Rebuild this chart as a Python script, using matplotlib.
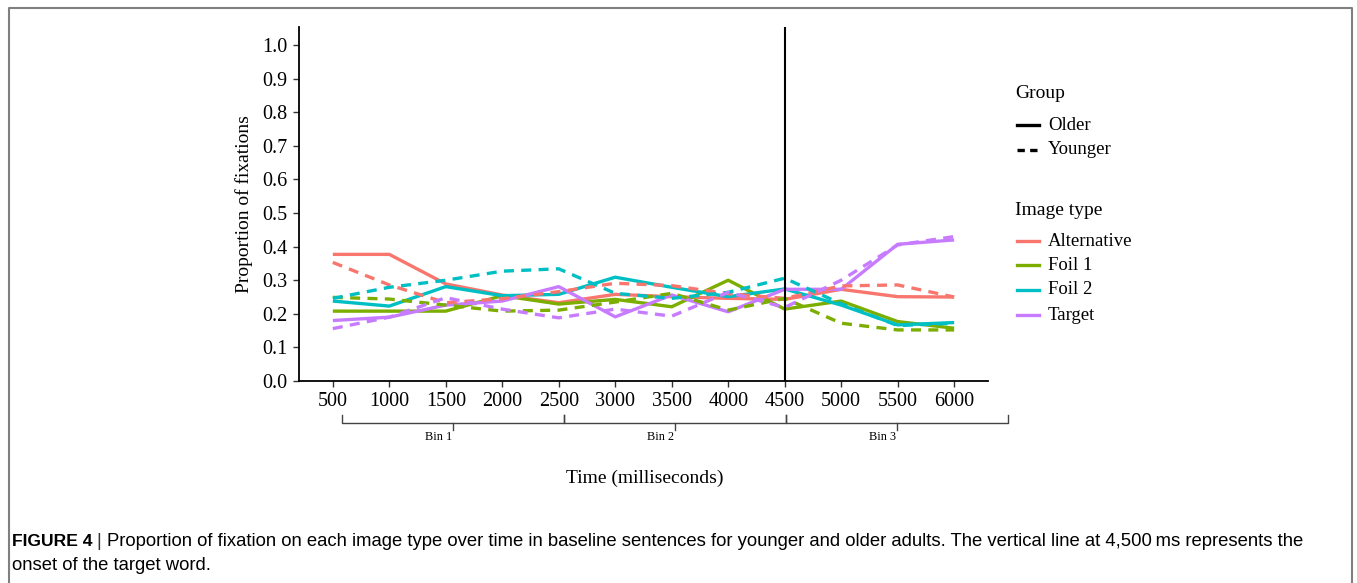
import matplotlib.pyplot as plt
from matplotlib.lines import Line2D

# Time points (ms)
times = [500, 1000, 1500, 2000, 2500, 3000, 3500, 4000, 4500, 5000, 5500, 6000]

# Older adults (solid)
alt_old = [0.377, 0.377, 0.289, 0.256, 0.233, 0.258, 0.251, 0.246, 0.243, 0.273, 0.251, 0.250]
foil1_old = [0.208, 0.208, 0.208, 0.254, 0.229, 0.243, 0.221, 0.300, 0.214, 0.238, 0.177, 0.157]
foil2_old = [0.238, 0.223, 0.281, 0.254, 0.258, 0.309, 0.279, 0.251, 0.274, 0.226, 0.167, 0.174]
target_old = [0.180, 0.190, 0.226, 0.238, 0.281, 0.191, 0.256, 0.206, 0.273, 0.273, 0.407, 0.420]

# Younger adults (dashed)
alt_young = [0.353, 0.286, 0.233, 0.245, 0.266, 0.291, 0.284, 0.260, 0.246, 0.283, 0.286, 0.250]
foil1_young = [0.249, 0.244, 0.226, 0.208, 0.211, 0.235, 0.261, 0.211, 0.246, 0.172, 0.152, 0.152]
foil2_young = [0.246, 0.279, 0.300, 0.327, 0.334, 0.261, 0.246, 0.264, 0.306, 0.230, 0.165, 0.172]
target_young = [0.156, 0.190, 0.248, 0.214, 0.188, 0.214, 0.193, 0.264, 0.219, 0.300, 0.405, 0.430]

image_types = ['Alternative', 'Foil 1', 'Foil 2', 'Target']
colors = ['#F8766D', '#7CAE00', '#00BFC4', '#C77CFF']
groups = ['Older', 'Younger']

# Bins under the x axis
bin_edges = [580, 2550, 4510, 6480]
bin_labels = ['Bin 1', 'Bin 2', 'Bin 3']

onset = 4500

serif = ['Liberation Serif', 'DejaVu Serif']
plt.rcParams['font.family'] = serif

fig = plt.figure(figsize=(13.57, 5.83), dpi=100)
ax = fig.add_axes([0.2203, 0.3465, 0.5078, 0.6072])

old_series = [alt_old, foil1_old, foil2_old, target_old]
young_series = [alt_young, foil1_young, foil2_young, target_young]
for vals, c in zip(old_series, colors):
    ax.plot(times, vals, color=c, lw=2.4, solid_capstyle='butt')
for vals, c in zip(young_series, colors):
    ax.plot(times, vals, color=c, lw=2.4, dashes=(3, 2.2))

ax.axvline(onset, color='black', lw=1.5)

ax.set_xlim(200, 6300)
ax.set_ylim(0, 1.054)
ax.set_xticks(times)
ax.set_xticklabels([str(t) for t in times])
yt = [i / 10 for i in range(11)]
ax.set_yticks(yt)
ax.set_yticklabels(['%.1f' % v for v in yt])
ax.tick_params(labelsize=14.5, length=4, width=1, color='#333333', pad=4)
for s in ['top', 'right']:
    ax.spines[s].set_visible(False)
for s in ['left', 'bottom']:
    ax.spines[s].set_linewidth(1.3)

ax.set_ylabel('Proportion of fixations', fontsize=14, labelpad=7)
fig.text(645 / 1357, 1 - 478 / 583, 'Time (milliseconds)', fontsize=14,
         ha='center', va='center')

# Brackets for the bins (data x, data y below the axis)
ytop, ybar, ydown = -0.102, -0.124, -0.145
for i, lab in enumerate(bin_labels):
    a, b = bin_edges[i], bin_edges[i + 1]
    m = (a + b) / 2
    ax.plot([a, a, b, b], [ytop, ybar, ybar, ytop], color='#444444', lw=1,
            clip_on=False)
    ax.plot([m, m], [ybar, ydown], color='#444444', lw=1, clip_on=False)
    ax.text(m - 10, -0.168, lab, fontsize=8.8, ha='right', va='center')

# Legend drawn by hand
def fx(px):
    return px / 1357

def fy(py):
    return 1 - py / 583

fig.text(fx(1015), fy(93), 'Group', fontsize=14, va='center')
for py, g, ls in [(125, groups[0], '-'), (150, groups[1], (0, (2.2, 1.6)))]:
    fig.add_artist(Line2D([fx(1017), fx(1039)], [fy(py), fy(py)], color='black',
                          lw=2.4, linestyle=ls))
    fig.text(fx(1048), fy(py), g, fontsize=13.5, va='center')

fig.text(fx(1015), fy(210), 'Image type', fontsize=14, va='center')
for py, name, c in zip([241, 265, 290, 315], image_types, colors):
    fig.add_artist(Line2D([fx(1017), fx(1039)], [fy(py), fy(py)], color=c, lw=2.4))
    fig.text(fx(1048), fy(py), name, fontsize=13.5, va='center')

# Outer frame (left, top, right)
fig.add_artist(Line2D([fx(8.5), fx(8.5), fx(1351.5), fx(1351.5)],
                      [0, fy(7.5), fy(7.5), 0], color='#808080', lw=1.5))

# Caption
sans = ['Liberation Sans Narrow', 'Liberation Sans', 'DejaVu Sans']
fig.text(fx(12), fy(541), 'FIGURE 4', fontsize=12.6, fontweight='bold',
         family=sans, va='center')
fig.text(fx(96), fy(541), '|', fontsize=13.3, family=sans, va='center', color='#333333')
fig.text(fx(107), fy(541),
         'Proportion of fixation on each image type over time in baseline sentences '
         'for younger and older adults. The vertical line at 4,500\u2009ms represents the',
         fontsize=13.3, family=sans, va='center')
fig.text(fx(12), fy(566), 'onset of the target word.', fontsize=13.3, family=sans,
         va='center')

fig.savefig('out.png', dpi=100)
